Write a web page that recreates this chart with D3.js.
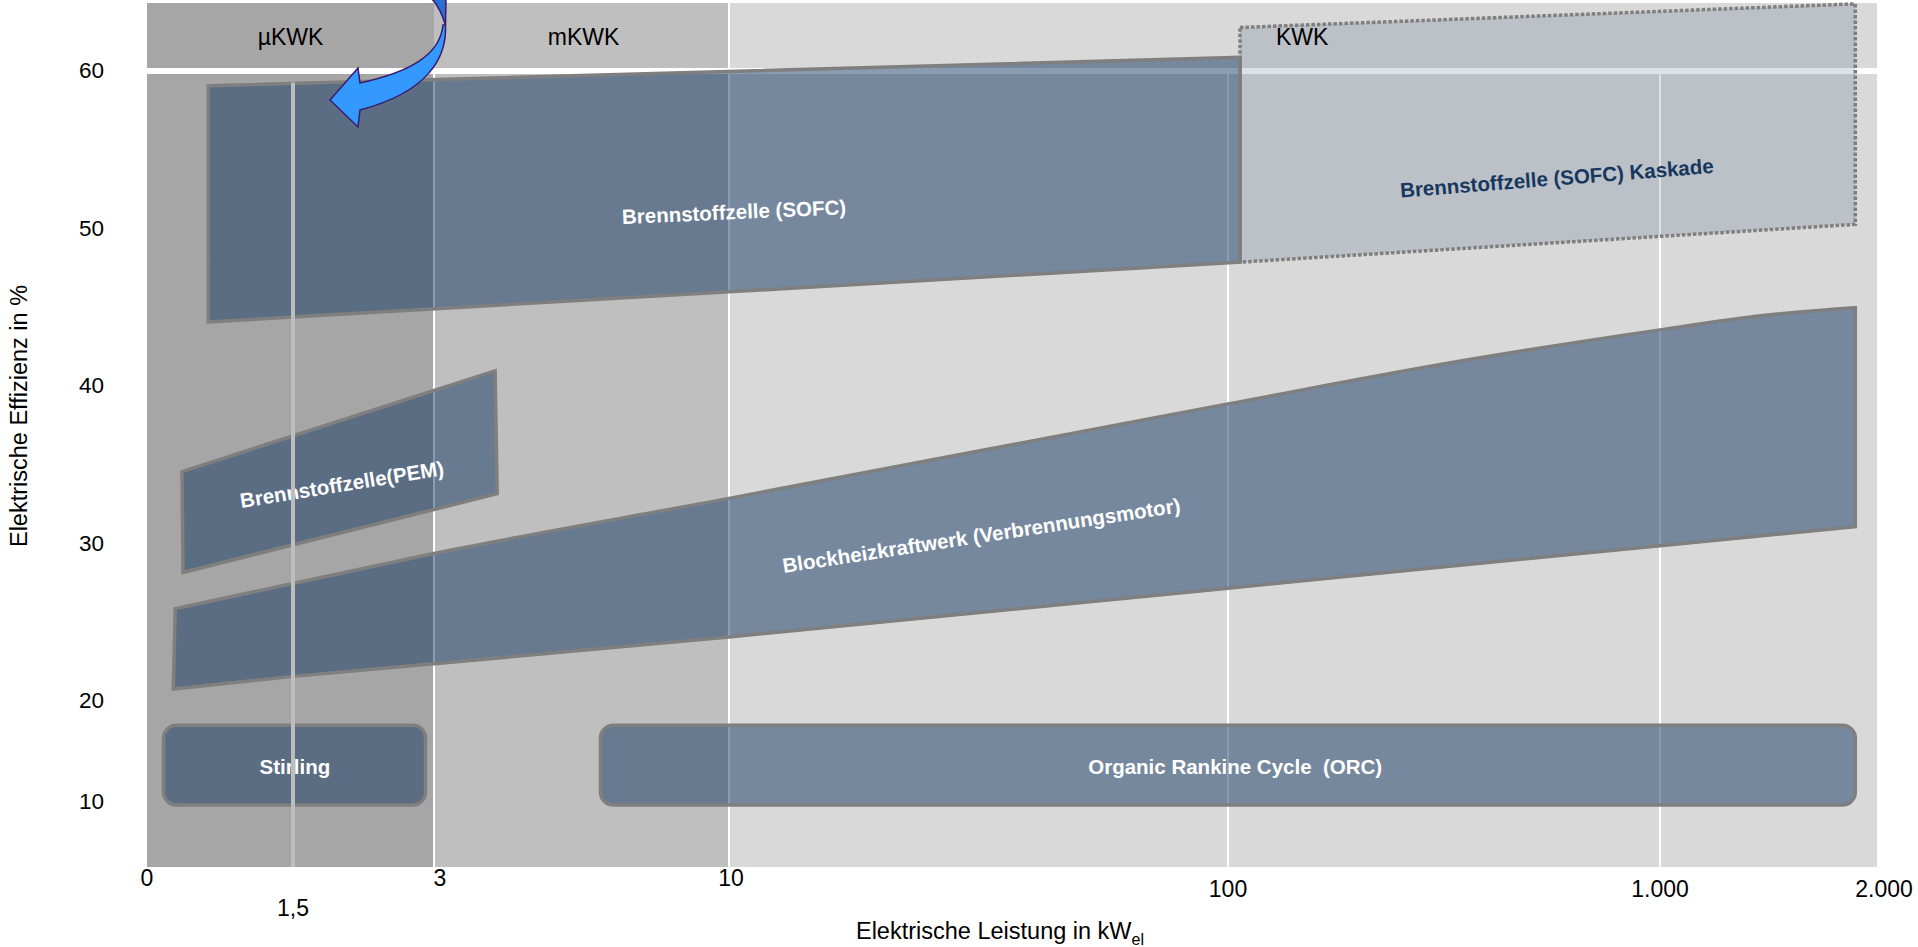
<!DOCTYPE html>
<html><head><meta charset="utf-8">
<script src="https://cdn.jsdelivr.net/npm/d3@7"></script>
<style>
html,body{margin:0;padding:0;background:#fff;}
svg{display:block;font-family:Arial,"Liberation Sans",sans-serif;}
</style></head><body>
<svg id="c" width="1918" height="947"></svg>
<script>
// ---------- DATA ----------
const xTickValues = [0, 1.5, 3, 10, 100, 1000, 2000];
const xTickLabels = ["0", "1,5", "3", "10", "100", "1.000", "2.000"];
const yTickValues = [60, 50, 40, 30, 20, 10];
const yTickLabels = ["60", "50", "40", "30", "20", "10"];

const classNames = ["µKWK", "mKWK", "KWK"];
const classFrom = [0, 3, 10];
const classTo = [3, 10, 2000];
const gridValues = [3, 10, 100, 1000];
const markerValue = 1.5;

// Brennstoffzelle (SOFC)
const sofcX = [0.63, 125, 125, 0.63];
const sofcY = [59.0, 60.8, 47.8, 44.0];
// Brennstoffzelle (SOFC) Kaskade
const kaskadeX = [125, 1900, 1900, 125];
const kaskadeY = [62.7, 64.2, 50.2, 47.8];
// Brennstoffzelle (PEM)
const pemX = [0.36, 4.45, 4.5, 0.37];
const pemY = [34.5, 40.9, 33.1, 28.1];
// Blockheizkraftwerk
const bhkwTopX = [0.29, 1.5, 3, 10, 100, 600, 1000, 1465, 1900];
const bhkwTopY = [25.8, 27.4, 29.3, 32.8, 38.8, 41.6, 43.5, 44.4, 44.9];
const bhkwBottomX = [1900, 1000, 100, 10, 3, 1.5, 0.27];
const bhkwBottomY = [31.0, 29.8, 27.1, 24.0, 22.3, 21.5, 20.7];
// Stirling, ORC (ranges)
const stirlingX = [0.17, 2.91];
const stirlingY = [9.6, 17.5];
const orcX = [6.95, 1900];
const orcY = [9.6, 17.5];

const shapeLabels = ["Brennstoffzelle (SOFC)", "Brennstoffzelle (SOFC) Kaskade", "Brennstoffzelle(PEM)",
  "Blockheizkraftwerk (Verbrennungsmotor)", "Stirling", "Organic Rankine Cycle  (ORC)"];
const shapeLabelX = [10.9, 785, 2.02, 55.5, 1.52, 115];
const shapeLabelY = [51.0, 53.15, 33.7, 30.46, 13.4, 13.4];

// ---------- LAYOUT ----------
const svg = d3.select("#c");
const plotTop = 74, plotBottom = 867, headTop = 3, headBottom = 68;
const x = d3.scaleLinear().domain(xTickValues).range([147, 293, 434, 729, 1228, 1660, 1877]);
const y = d3.scaleLinear().domain([10, 20, 60]).range([801, 700, 70]);
const classColors = ["#a6a6a6", "#bfbfbf", "#d9d9d9"];
const shapeFill = "rgb(10,49,95)";
const strokeCol = "#7f7f7f";

// backgrounds
classNames.forEach((n, i) => {
  svg.append("rect").attr("x", x(classFrom[i])).attr("y", headTop)
    .attr("width", x(classTo[i]) - x(classFrom[i])).attr("height", headBottom - headTop)
    .attr("fill", classColors[i]);
  svg.append("rect").attr("x", x(classFrom[i])).attr("y", plotTop)
    .attr("width", x(classTo[i]) - x(classFrom[i])).attr("height", plotBottom - plotTop)
    .attr("fill", classColors[i]);
});
// header white separator
svg.append("line").attr("x1", x(10)).attr("x2", x(10)).attr("y1", headTop).attr("y2", headBottom)
  .attr("stroke", "#fff").attr("stroke-width", 2);
// gridlines
svg.selectAll(".grid").data(gridValues).join("line")
  .attr("x1", d => x(d)).attr("x2", d => x(d)).attr("y1", plotTop).attr("y2", plotBottom)
  .attr("stroke", "#fff").attr("stroke-width", 2);

// shapes
const poly = (xs, ys) => d3.line().curve(d3.curveLinearClosed)(xs.map((v, i) => [x(v), y(ys[i])]));
const shapeG = svg.append("g");
shapeG.append("path").attr("d", poly(sofcX, sofcY))
  .attr("fill", shapeFill).attr("fill-opacity", 0.48).attr("stroke", strokeCol).attr("stroke-width", 3.5);
shapeG.append("path").attr("d", poly(pemX, pemY))
  .attr("fill", shapeFill).attr("fill-opacity", 0.48).attr("stroke", strokeCol).attr("stroke-width", 3.5);
const topPath = d3.line().curve(d3.curveMonotoneX)(bhkwTopX.map((v, i) => [x(v), y(bhkwTopY[i])]));
const botPath = d3.line()(bhkwBottomX.map((v, i) => [x(v), y(bhkwBottomY[i])]));
shapeG.append("path").attr("d", topPath + botPath.replace(/^M/, "L") + "Z")
  .attr("fill", shapeFill).attr("fill-opacity", 0.48).attr("stroke", strokeCol).attr("stroke-width", 3.5)
  .attr("stroke-linejoin", "miter");
[[stirlingX, stirlingY], [orcX, orcY]].forEach(([xs, ys]) => {
  shapeG.append("rect").attr("x", x(xs[0])).attr("y", y(ys[1]))
    .attr("width", x(xs[1]) - x(xs[0])).attr("height", y(ys[0]) - y(ys[1]))
    .attr("rx", 13).attr("ry", 13)
    .attr("fill", shapeFill).attr("fill-opacity", 0.48).attr("stroke", strokeCol).attr("stroke-width", 3.5);
});
shapeG.append("path").attr("d", poly(kaskadeX, kaskadeY))
  .attr("fill", shapeFill).attr("fill-opacity", 0.14).attr("stroke", strokeCol).attr("stroke-width", 3.5)
  .attr("stroke-dasharray", "3.5,2");

// shape labels
const labelAngles = [-2.5, -4.5, -9.2, -8.7, 0, 0];
const labelColors = ["#fff", "#17375e", "#fff", "#fff", "#fff", "#fff"];
shapeLabels.forEach((t, i) => {
  const px = x(shapeLabelX[i]), py = y(shapeLabelY[i]);
  svg.append("text").attr("transform", `translate(${px},${py}) rotate(${labelAngles[i]})`)
    .attr("text-anchor", "middle").attr("dy", "0.36em")
    .attr("xml:space", "preserve").style("white-space", "pre")
    .attr("font-size", 20.5).attr("font-weight", "bold").attr("fill", labelColors[i]).text(t);
});

// 1,5 marker line
svg.append("line").attr("x1", x(markerValue)).attr("x2", x(markerValue))
  .attr("y1", y(59.2)).attr("y2", plotBottom).attr("stroke", "#bdbdbd").attr("stroke-width", 4);

// header labels
svg.append("text").attr("x", (x(0) + x(3)) / 2).attr("y", 45).attr("text-anchor", "middle")
  .attr("font-size", 23).attr("fill", "#000").text(classNames[0]);
svg.append("text").attr("x", (x(3) + x(10)) / 2 + 2).attr("y", 45).attr("text-anchor", "middle")
  .attr("font-size", 23).attr("fill", "#000").text(classNames[1]);
svg.append("text").attr("x", x(200)).attr("y", 45).attr("text-anchor", "start")
  .attr("font-size", 23).attr("fill", "#000").text(classNames[2]);

// arrow (annotation)
const arrowG = svg.append("g");
arrowG.append("path").attr("d", "M431,-2 L446,-2 L445.5,25 C442,14 438,5 431,-2 Z")
  .attr("fill", "#2a70d2").attr("stroke", "#3c1a6e").attr("stroke-width", 1.5);
arrowG.append("path")
  .attr("d", "M445.5,25 C447,58 428,92 360,110 L358,127 L330,100 L358,68 L360,83 C410,72 440,55 443,25 Z")
  .attr("fill", "#3399ff").attr("stroke", "#3c1a6e").attr("stroke-width", 1.5).attr("stroke-linejoin", "miter");

// y tick labels
svg.selectAll(".yt").data(yTickValues).join("text")
  .attr("x", 104).attr("y", d => y(d) + 8).attr("text-anchor", "end")
  .attr("font-size", 22.5).attr("fill", "#000").text((d, i) => yTickLabels[i]);

// x tick labels
const xRow = v => (v === 1.5 ? 916 : (v >= 100 ? 897 : 886));
const xShift = v => (v === 3 ? 6 : v === 2000 ? 7 : v === 10 ? 2 : 0);
svg.selectAll(".xt").data(xTickValues).join("text")
  .attr("x", d => x(d) + xShift(d)).attr("y", d => xRow(d)).attr("text-anchor", "middle")
  .attr("font-size", 23).attr("fill", "#000").text((d, i) => xTickLabels[i]);

// axis titles
const xt = svg.append("text").attr("x", 1000).attr("y", 939).attr("text-anchor", "middle")
  .attr("font-size", 23.5).attr("fill", "#000");
xt.append("tspan").text("Elektrische Leistung in kW");
xt.append("tspan").attr("dy", 6).attr("font-size", 16).text("el");

svg.append("text").attr("transform", "translate(27,416) rotate(-90)").attr("text-anchor", "middle")
  .attr("font-size", 23.5).attr("fill", "#000").text("Elektrische Effizienz in %");
</script>
</body></html>
